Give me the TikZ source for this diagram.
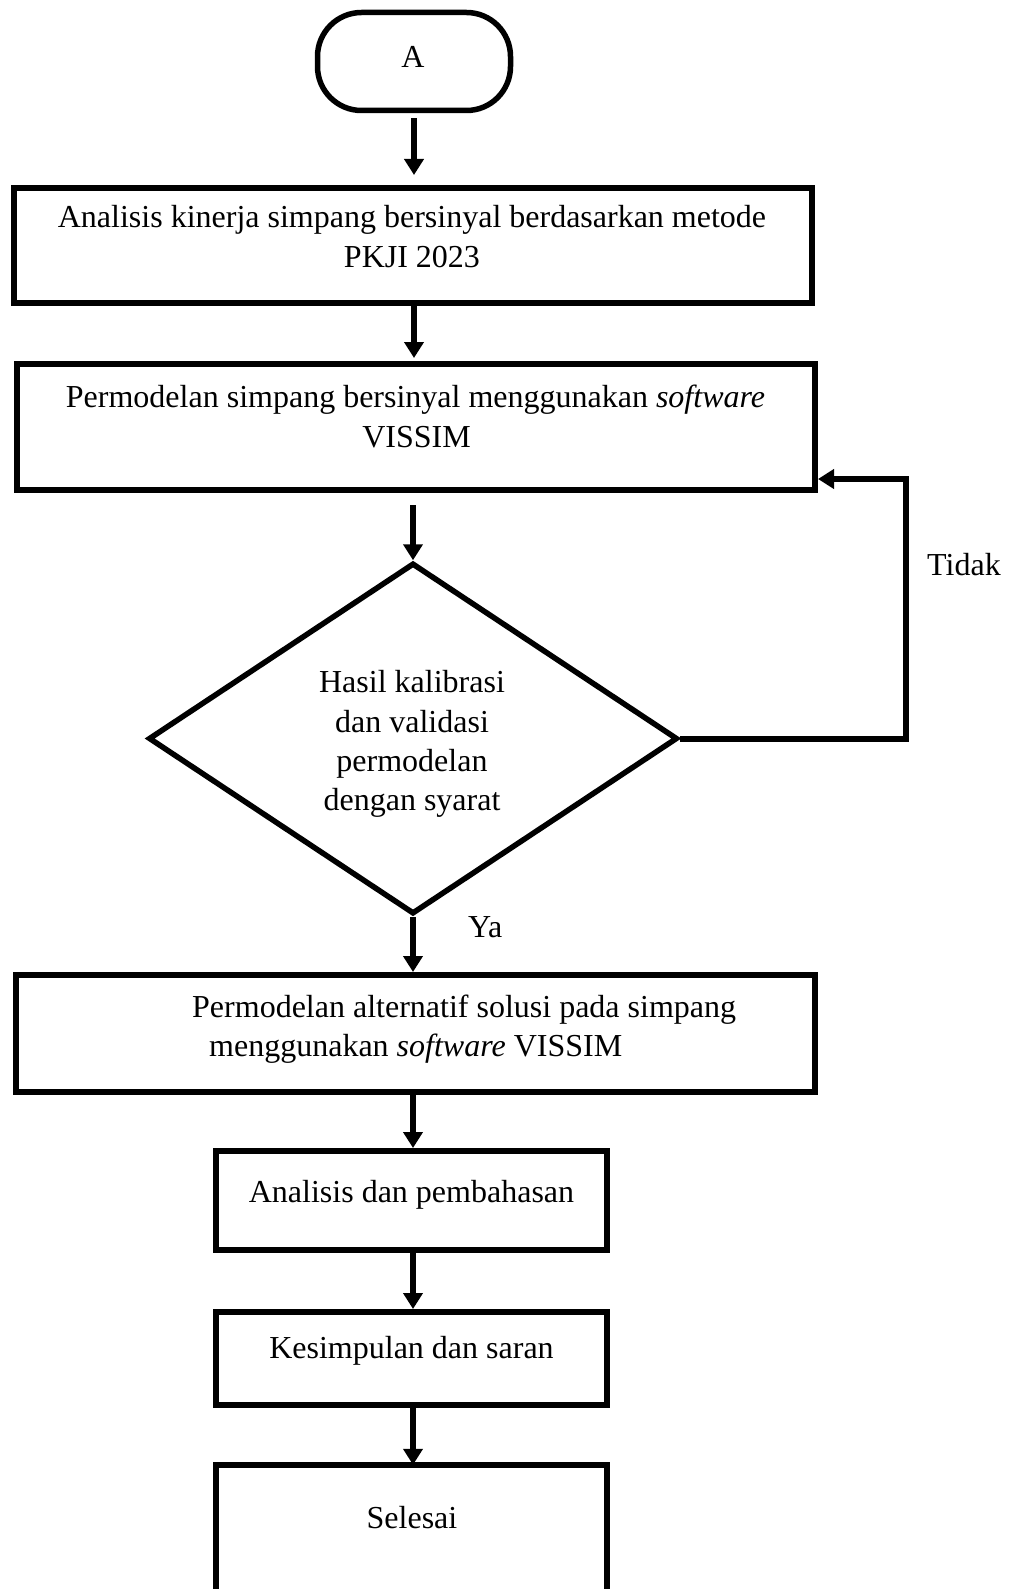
\documentclass[tikz,border=0pt]{standalone}
\usepackage{fontspec}
\setmainfont{Liberation Serif}
\usetikzlibrary{shapes.geometric,arrows.meta}
\begin{document}
\begin{tikzpicture}[x=1pt,y=-1pt,
  every node/.style={font=\fontsize{32}{39}\selectfont},
  box/.style={draw, rectangle, line width=6pt, inner sep=0pt},
  term/.style={draw, rectangle, rounded corners=44pt, line width=5.5pt, inner sep=0pt},
  decision/.style={draw, diamond, line width=5.5pt, inner sep=0pt},
  lbl/.style={inner sep=0pt, anchor=base},
  lblw/.style={inner sep=0pt, anchor=base west},
  arr/.style={line width=6pt, -{Triangle[length=16pt,width=19pt]}},
  fb/.style={line width=6pt, line join=miter, -{Triangle[length=16pt,width=19pt]}}]
\useasboundingbox (0,0) rectangle (1010,1589);

% shapes
\node[term, minimum width=193pt, minimum height=98pt] (A) at (414,61.5) {};
\node[box, minimum width=798pt, minimum height=115pt] (b1) at (413,245.5) {};
\node[box, minimum width=798pt, minimum height=126pt] (b2) at (416,427) {};
\node[decision, minimum width=529pt, minimum height=351pt] (dia) at (413,738.5) {};
\node[box, minimum width=799pt, minimum height=117pt] (b3) at (415.5,1033.5) {};
\node[box, minimum width=391pt, minimum height=99pt] (b4) at (411.5,1200.5) {};
\node[box, minimum width=391pt, minimum height=93pt] (b5) at (411.5,1358.5) {};
\node[rectangle, inner sep=0pt, minimum width=391pt, minimum height=124pt] (b6) at (411.5,1527) {};
\draw[line width=6pt, line join=miter] (b6.south west) -- (b6.north west) -- (b6.north east) -- (b6.south east);

% texts
\node[lbl] (tA) at (413,68) {A};
\node[lbl] (t1a) at (412,228) {Analisis kinerja simpang bersinyal berdasarkan metode};
\node[lbl] (t1b) at (412,267) {PKJI 2023};
\node[lbl] (t2a) at (415.5,407) {Permodelan simpang bersinyal menggunakan \textit{software}};
\node[lbl] (t2b) at (416.5,447) {VISSIM};
\node[lbl] (d1) at (412,692) {Hasil kalibrasi};
\node[lbl] (d2) at (412,732) {dan validasi};
\node[lbl] (d3) at (412,771) {permodelan};
\node[lbl] (d4) at (412,810) {dengan syarat};
\node[lblw] (t3a) at (192,1017) {Permodelan alternatif solusi pada simpang};
\node[lblw] (t3b) at (209,1056) {menggunakan \textit{software} VISSIM};
\node[lbl] (t4) at (411.5,1202) {Analisis dan pembahasan};
\node[lbl] (t5) at (411.5,1358) {Kesimpulan dan saran};
\node[lbl] (t6) at (412,1528) {Selesai};
\node[lblw] (tidak) at (927,575) {Tidak};
\node[lblw] (ya) at (468,937) {Ya};

% connectors
\draw[arr, shorten <=5pt, shorten >=10pt] (A.south) -- (A.south |- b1.north);
\draw[arr, shorten >=3pt] (A.south |- b1.south) -- (A.south |- b2.north);
\draw[arr, shorten <=12pt] (dia.north |- b2.south) -- (dia.north);
\draw[arr] (dia.south) -- (dia.south |- b3.north);
\draw[arr] (dia.south |- b3.south) -- (dia.south |- b4.north);
\draw[arr] (dia.south |- b4.south) -- (dia.south |- b5.north);
\draw[arr] (dia.south |- b5.south) -- (dia.south |- b6.north);
\coordinate (fbc) at (906,479);
\draw[fb] (dia.east) -| (fbc) -- (fbc -| b2.east);
\end{tikzpicture}
\end{document}
